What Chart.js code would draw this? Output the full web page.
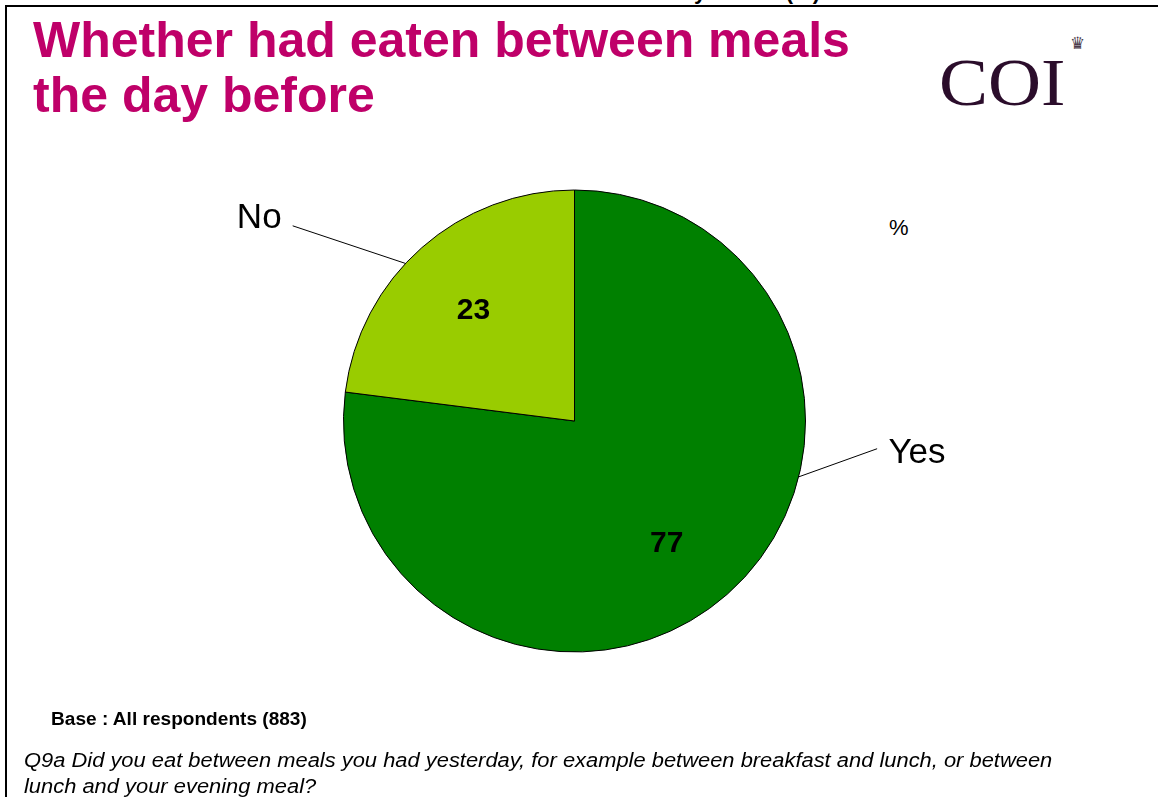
<!DOCTYPE html>
<html>
<head>
<meta charset="utf-8">
<script src="https://cdn.jsdelivr.net/npm/chart.js@4"></script>
<style>
  html, body { margin: 0; padding: 0; background: #fff; }
  #wrap { position: relative; width: 1158px; height: 797px; overflow: hidden; font-family: "Liberation Sans", Arial, sans-serif; }
  #chart { position: absolute; left: 0; top: 0; }
  .txt { position: absolute; white-space: nowrap; transform-origin: 0 0; }
  #cut { right: 338px; top: -21px; font-size: 22px; font-weight: bold; color: #000; }
  #frameTop { position: absolute; left: 5px; top: 5px; width: 1153px; height: 2px; background: #000; }
  #frameLeft { position: absolute; left: 5px; top: 5px; width: 2px; height: 792px; background: #000; }
  #title { left: 33px; top: 13px; font-size: 50px; line-height: 55px; font-weight: bold; color: #bf0069; }
  #logo { left: 939px; top: 43px; font-family: "Liberation Serif", "Times New Roman", serif; font-size: 68px; color: #2b0d2b; transform: scaleX(1.08); }
  #crown { left: 1070px; top: 33px; font-size: 17px; color: #4a3a4a; font-family: "DejaVu Sans", sans-serif; }
  #pct { left: 889px; top: 215px; font-size: 22px; color: #000; }
  #base { left: 51px; top: 709px; font-size: 17.5px; font-weight: bold; color: #000; transform: scaleX(1.09); }
  #q { left: 24px; top: 747px; font-size: 20px; line-height: 26px; font-style: italic; color: #000; transform: scaleX(1.095); }
</style>
</head>
<body>
<div id="wrap">
  <div class="txt" id="cut">Chart 11: Whether ate between main meals the day before (%)</div>
  <div id="frameTop"></div>
  <div id="frameLeft"></div>
  <div class="txt" id="title">Whether had eaten between meals<br>the day before</div>
  <div class="txt" id="logo">COI</div>
  <div class="txt" id="crown">♛</div>
  <div class="txt" id="pct">%</div>
  <canvas id="chart" width="1158" height="797"></canvas>
  <div class="txt" id="base">Base : All respondents (883)</div>
  <div class="txt" id="q">Q9a Did you eat between meals you had yesterday, for example between breakfast and lunch, or between<br>lunch and your evening meal?</div>
</div>
<script>
// answers and shares (%)
const categories = ['Yes', 'No'];
const shares = [77, 23];
const sliceColors = ['#008000', '#99cc00'];

// where the numbers sit inside each slice (degrees off the slice middle, share of radius)
const valueSpots = [
  { shift: 4.2, dist: 0.66 },
  { shift: -0.9, dist: 0.65 }
];

// outer label placement, in units of the pie radius from its centre
const labelAnchors = [
  { edgeAngle: 104, end: [1.31, 0.12], text: [1.359, 0.182], align: 'left' },
  { edgeAngle: 313, end: [-1.22, -0.845], text: [-1.268, -0.835], align: 'right' }
];

// draws the values inside and the category names with leader lines
const pieLabels = {
  id: 'pieLabels',
  afterDatasetsDraw(chart) {
    const ctx = chart.ctx;
    const arcs = chart.getDatasetMeta(0).data;
    ctx.save();
    arcs.forEach((arc, i) => {
      const { x, y, outerRadius: r, startAngle, endAngle } = arc.getProps(['x', 'y', 'outerRadius', 'startAngle', 'endAngle'], true);
      const spot = valueSpots[i];
      const mid = (startAngle + endAngle) / 2 + spot.shift * Math.PI / 180;
      // value
      ctx.fillStyle = '#000';
      ctx.font = 'bold 30px "Liberation Sans", Arial, sans-serif';
      ctx.textAlign = 'center';
      ctx.textBaseline = 'middle';
      ctx.fillText(String(shares[i]), x + Math.cos(mid) * r * spot.dist, y + Math.sin(mid) * r * spot.dist + 1);
      // leader line and name
      const a = labelAnchors[i];
      const ang = (a.edgeAngle - 90) * Math.PI / 180;
      ctx.strokeStyle = '#000';
      ctx.lineWidth = 1;
      ctx.beginPath();
      ctx.moveTo(x + Math.cos(ang) * r, y + Math.sin(ang) * r);
      ctx.lineTo(x + a.end[0] * r, y + a.end[1] * r);
      ctx.stroke();
      ctx.font = '35px "Liberation Sans", Arial, sans-serif';
      ctx.textAlign = a.align;
      ctx.textBaseline = 'alphabetic';
      ctx.fillText(categories[i], x + a.text[0] * r, y + a.text[1] * r);
    });
    ctx.restore();
  }
};

new Chart(document.getElementById('chart'), {
  type: 'pie',
  data: {
    labels: categories,
    datasets: [{
      data: shares,
      backgroundColor: sliceColors,
      borderColor: '#000',
      borderWidth: 1
    }]
  },
  options: {
    responsive: false,
    animation: false,
    layout: { padding: { left: 343, right: 352, top: 189, bottom: 144 } },
    plugins: {
      legend: { display: false },
      tooltip: { enabled: false }
    }
  },
  plugins: [pieLabels]
});
</script>
</body>
</html>
